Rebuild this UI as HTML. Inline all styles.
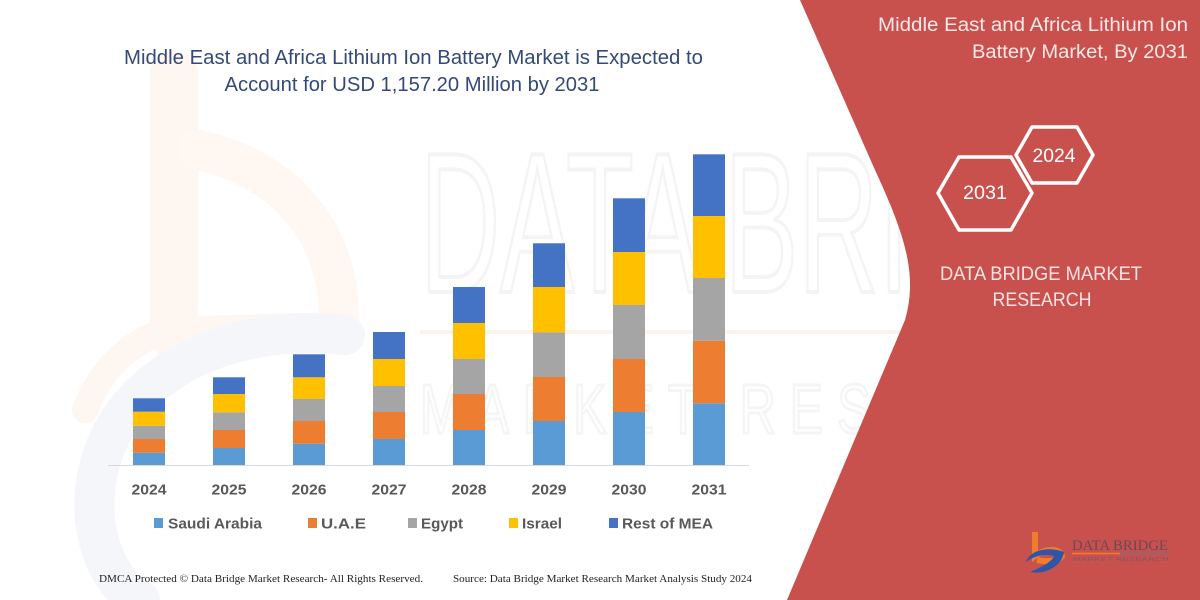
<!DOCTYPE html>
<html>
<head>
<meta charset="utf-8">
<style>
  html,body{margin:0;padding:0;background:#fff;}
  svg{display:block;}
</style>
</head>
<body>
<svg width="1200" height="600" viewBox="0 0 1200 600" xmlns="http://www.w3.org/2000/svg">
  <rect x="0" y="0" width="1200" height="600" fill="#ffffff"/>

  <!-- faint watermark logo (left) -->
  <g fill="none" stroke-linecap="round">
    <path d="M174,75 L174,335" stroke="#fef6f1" stroke-width="48"/>
    <path d="M198,150 C290,170 345,240 338,330" stroke="#fef7f2" stroke-width="40"/>
    <path d="M85,410 C100,370 130,340 170,330 L335,325" stroke="#fef6f1" stroke-width="26"/>
    <path d="M345,335 C200,320 85,400 95,520 C100,565 125,595 140,600" stroke="#f5f6f9" stroke-width="40"/>
  </g>
  <!-- faint watermark text -->
  <text x="420" y="292" font-family="Liberation Sans, sans-serif" font-size="200" textLength="730" lengthAdjust="spacingAndGlyphs" fill="none" stroke="#f4f4f4" stroke-width="4">DATA BRIDGE</text>
  <line x1="420" y1="332" x2="900" y2="332" stroke="#fdf3ed" stroke-width="4"/>
  <text x="420" y="433" font-family="Liberation Sans, sans-serif" font-size="70" textLength="710" lengthAdjust="spacingAndGlyphs" fill="none" stroke="#f5f5f5" stroke-width="3" letter-spacing="20">MARKET RESEARCH</text>

  <!-- red panel -->
  <path d="M800,0 L1200,0 L1200,600 L787,600 L905,320 C918,275 905,235 875,170 Z" fill="#c9514d"/>

  <!-- Left title -->
  <g font-family="Liberation Sans, sans-serif" font-size="20" fill="#34497a" text-anchor="middle">
    <text x="413.5" y="64" textLength="579" lengthAdjust="spacingAndGlyphs">Middle East and Africa Lithium Ion Battery Market is Expected to</text>
    <text x="412" y="91" textLength="375" lengthAdjust="spacingAndGlyphs">Account for USD 1,157.20 Million by 2031</text>
  </g>

  <!-- axis -->
  <line x1="108" y1="465.5" x2="749" y2="465.5" stroke="#d9d9d9" stroke-width="1"/>

  <!-- bars -->
  <g>
    <rect x="133" y="452.7" width="32" height="12.3" fill="#5b9bd5"/>
    <rect x="133" y="439" width="32" height="13.7" fill="#ed7d31"/>
    <rect x="133" y="425.7" width="32" height="13.3" fill="#a5a5a5"/>
    <rect x="133" y="411.7" width="32" height="14" fill="#ffc000"/>
    <rect x="133" y="398.3" width="32" height="13.4" fill="#4472c4"/>

    <rect x="213" y="448" width="32" height="17" fill="#5b9bd5"/>
    <rect x="213" y="430" width="32" height="18" fill="#ed7d31"/>
    <rect x="213" y="412.3" width="32" height="17.7" fill="#a5a5a5"/>
    <rect x="213" y="394" width="32" height="18.3" fill="#ffc000"/>
    <rect x="213" y="377.3" width="32" height="16.7" fill="#4472c4"/>

    <rect x="293" y="443.7" width="32" height="21.3" fill="#5b9bd5"/>
    <rect x="293" y="421" width="32" height="22.7" fill="#ed7d31"/>
    <rect x="293" y="399" width="32" height="22" fill="#a5a5a5"/>
    <rect x="293" y="377.3" width="32" height="21.7" fill="#ffc000"/>
    <rect x="293" y="354.3" width="32" height="23" fill="#4472c4"/>

    <rect x="373" y="439" width="32" height="26" fill="#5b9bd5"/>
    <rect x="373" y="412" width="32" height="27" fill="#ed7d31"/>
    <rect x="373" y="386" width="32" height="26" fill="#a5a5a5"/>
    <rect x="373" y="359" width="32" height="27" fill="#ffc000"/>
    <rect x="373" y="332" width="32" height="27" fill="#4472c4"/>

    <rect x="453" y="430" width="32" height="35" fill="#5b9bd5"/>
    <rect x="453" y="394" width="32" height="36" fill="#ed7d31"/>
    <rect x="453" y="359" width="32" height="35" fill="#a5a5a5"/>
    <rect x="453" y="323" width="32" height="36" fill="#ffc000"/>
    <rect x="453" y="287" width="32" height="36" fill="#4472c4"/>

    <rect x="533" y="421" width="32" height="44" fill="#5b9bd5"/>
    <rect x="533" y="377" width="32" height="44" fill="#ed7d31"/>
    <rect x="533" y="332.3" width="32" height="44.7" fill="#a5a5a5"/>
    <rect x="533" y="287" width="32" height="45.3" fill="#ffc000"/>
    <rect x="533" y="243.3" width="32" height="43.7" fill="#4472c4"/>

    <rect x="613" y="412" width="32" height="53" fill="#5b9bd5"/>
    <rect x="613" y="359" width="32" height="53" fill="#ed7d31"/>
    <rect x="613" y="305" width="32" height="54" fill="#a5a5a5"/>
    <rect x="613" y="252" width="32" height="53" fill="#ffc000"/>
    <rect x="613" y="198.3" width="32" height="53.7" fill="#4472c4"/>

    <rect x="693" y="403.3" width="32" height="61.7" fill="#5b9bd5"/>
    <rect x="693" y="340.7" width="32" height="62.6" fill="#ed7d31"/>
    <rect x="693" y="278" width="32" height="62.7" fill="#a5a5a5"/>
    <rect x="693" y="216" width="32" height="62" fill="#ffc000"/>
    <rect x="693" y="154.3" width="32" height="61.7" fill="#4472c4"/>
  </g>

  <!-- x labels -->
  <g font-family="Liberation Sans, sans-serif" font-size="15" font-weight="bold" fill="#595959" text-anchor="middle">
    <text x="149" y="494.5" textLength="35" lengthAdjust="spacingAndGlyphs">2024</text>
    <text x="229" y="494.5" textLength="35" lengthAdjust="spacingAndGlyphs">2025</text>
    <text x="309" y="494.5" textLength="35" lengthAdjust="spacingAndGlyphs">2026</text>
    <text x="389" y="494.5" textLength="35" lengthAdjust="spacingAndGlyphs">2027</text>
    <text x="469" y="494.5" textLength="35" lengthAdjust="spacingAndGlyphs">2028</text>
    <text x="549" y="494.5" textLength="35" lengthAdjust="spacingAndGlyphs">2029</text>
    <text x="629" y="494.5" textLength="35" lengthAdjust="spacingAndGlyphs">2030</text>
    <text x="709" y="494.5" textLength="35" lengthAdjust="spacingAndGlyphs">2031</text>
  </g>

  <!-- legend -->
  <rect x="154" y="518" width="9" height="10" fill="#5b9bd5"/>
  <rect x="308" y="518" width="9" height="10" fill="#ed7d31"/>
  <rect x="408" y="518" width="9" height="10" fill="#a5a5a5"/>
  <rect x="509" y="518" width="9" height="10" fill="#ffc000"/>
  <rect x="609" y="518" width="9" height="10" fill="#4472c4"/>
  <g font-family="Liberation Sans, sans-serif" font-size="15" font-weight="bold" fill="#595959">
    <text x="168" y="528.5" textLength="94" lengthAdjust="spacingAndGlyphs">Saudi Arabia</text>
    <text x="321" y="528.5" textLength="45" lengthAdjust="spacingAndGlyphs">U.A.E</text>
    <text x="421" y="528.5" textLength="42" lengthAdjust="spacingAndGlyphs">Egypt</text>
    <text x="522" y="528.5" textLength="40" lengthAdjust="spacingAndGlyphs">Israel</text>
    <text x="622" y="528.5" textLength="91" lengthAdjust="spacingAndGlyphs">Rest of MEA</text>
  </g>

  <!-- footer -->
  <g font-family="Liberation Serif, serif" font-size="10.5" fill="#222222">
    <text x="99" y="582" textLength="324" lengthAdjust="spacingAndGlyphs">DMCA Protected © Data Bridge Market Research-  All Rights Reserved.</text>
    <text x="453" y="582" textLength="299" lengthAdjust="spacingAndGlyphs">Source: Data Bridge Market Research  Market Analysis Study 2024</text>
  </g>

  <!-- Right title -->
  <g font-family="Liberation Sans, sans-serif" font-size="19" fill="#f8e9e9" text-anchor="end">
    <text x="1188" y="31" textLength="310" lengthAdjust="spacingAndGlyphs">Middle East and Africa Lithium Ion</text>
    <text x="1188" y="58" textLength="216" lengthAdjust="spacingAndGlyphs">Battery Market, By 2031</text>
  </g>

  <!-- hexagons -->
  <g fill="none" stroke="#ffffff" stroke-width="3.5" stroke-linejoin="round">
    <polygon points="938,193 959,157 1011,157 1032,193 1011,230 959,230"/>
    <polygon points="1016,155 1032,127 1077,127 1093,155 1077,183 1032,183"/>
  </g>
  <g font-family="Liberation Sans, sans-serif" font-size="19" fill="#ffffff" text-anchor="middle">
    <text x="985" y="199" textLength="44" lengthAdjust="spacingAndGlyphs">2031</text>
    <text x="1054" y="162" textLength="43" lengthAdjust="spacingAndGlyphs">2024</text>
  </g>

  <!-- DATA BRIDGE MARKET RESEARCH -->
  <g font-family="Liberation Sans, sans-serif" font-size="19" fill="#f6e4e4" text-anchor="middle">
    <text x="1041" y="280" textLength="202" lengthAdjust="spacingAndGlyphs">DATA BRIDGE MARKET</text>
    <text x="1042" y="306" textLength="99" lengthAdjust="spacingAndGlyphs">RESEARCH</text>
  </g>

  <!-- bottom-right logo -->
  <g>
    <path d="M1035,532 L1035,556 C1045,548 1060,548 1062,556 C1058,562 1045,562 1037,560" fill="none" stroke="#ef7d2c" stroke-width="6"/>
    <path d="M1026,562 C1030,550 1048,546 1064,552 C1062,566 1046,575 1030,572 C1040,568 1052,562 1054,556 C1044,553 1034,556 1026,562 Z" fill="#2e55a8"/>
    <text x="1072" y="550" font-family="Liberation Serif, serif" font-size="15" fill="#6a4856" textLength="96" lengthAdjust="spacingAndGlyphs">DATA BRIDGE</text>
    <line x1="1072" y1="553.5" x2="1120" y2="553.5" stroke="#ef7d2c" stroke-width="1.5"/>
    <line x1="1120" y1="553.5" x2="1170" y2="553.5" stroke="#8a6a78" stroke-width="1.5"/>
    <text x="1073" y="561" font-family="Liberation Sans, sans-serif" font-size="5" fill="#7a5a68" textLength="96" lengthAdjust="spacingAndGlyphs">MARKET RESEARCH</text>
  </g>
</svg>
</body>
</html>
